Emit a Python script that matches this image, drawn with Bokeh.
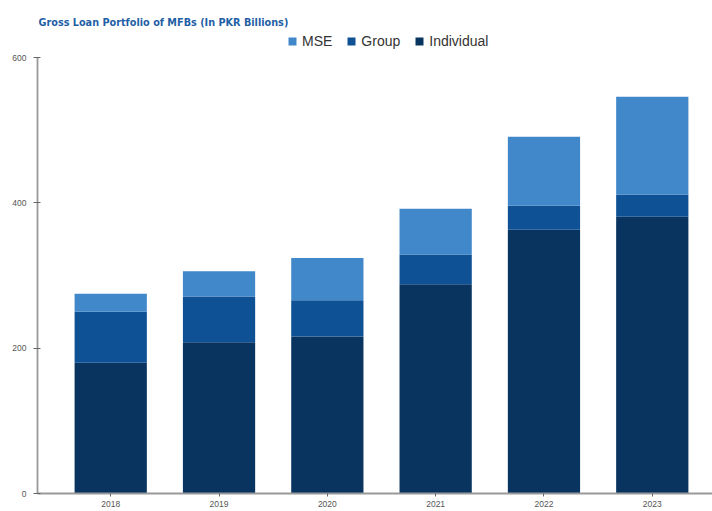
from bokeh.plotting import figure
from bokeh.models import ColumnDataSource, Legend, LegendItem, Label, FixedTicker, Range1d
from bokeh.embed import file_html
from bokeh.resources import INLINE

years = ["2018", "2019", "2020", "2021", "2022", "2023"]
individual = [180, 208, 216, 288, 363, 381]
group = [70, 63, 50, 41, 33, 30]
mse = [25, 35, 58, 63, 95, 135]
series = ["Individual", "Group", "MSE"]
colors = {"Individual": "#08345F", "Group": "#0E5195", "MSE": "#4088CA"}
y_ticks = [0, 200, 400, 600]
y_max = 600

xs = list(range(len(years)))
src = ColumnDataSource(dict(x=xs, Individual=individual, Group=group, MSE=mse))

# frame extends to the top of the canvas so the header texts are not clipped
frame_h = 493
axis_h = 436
p = figure(width=712, height=511, output_backend="svg", toolbar_location=None,
           x_range=Range1d(-0.676, 5.556), y_range=Range1d(0, y_max * frame_h / axis_h),
           min_border_left=37, min_border_right=0, min_border_top=0, min_border_bottom=18)
p.outline_line_color = None
p.xgrid.visible = False
p.ygrid.visible = False
p.background_fill_color = "white"
p.border_fill_color = "white"

rs = p.vbar_stack(series, x="x", width=0.667, source=src,
                  color=[colors[s] for s in series], line_color=None)

p.xaxis.ticker = FixedTicker(ticks=xs)
p.xaxis.major_label_overrides = {i: y for i, y in enumerate(years)}
p.yaxis.ticker = FixedTicker(ticks=y_ticks)
p.yaxis.bounds = (0, y_max)
for ax in (p.xaxis, p.yaxis):
    ax.axis_line_color = "#999999"
    ax.axis_line_width = 1.8
    ax.major_tick_line_color = "#666666"
    ax.minor_tick_line_color = None
    ax.major_label_text_font = "Liberation Sans"
    ax.major_label_text_font_size = "8.5px"
    ax.major_label_text_color = "#555555"
p.yaxis.major_tick_in = 3
p.yaxis.major_tick_out = 4
p.yaxis.major_label_standoff = 7
p.xaxis.major_tick_in = 0
p.xaxis.major_tick_out = 3
p.xaxis.major_label_standoff = 4

items = [LegendItem(label=s, renderers=[r]) for s, r in zip(series, rs)][::-1]
legend = Legend(items=items, orientation="horizontal", location=(250, 444),
                label_text_font="Liberation Sans", label_text_font_size="14px",
                label_text_color="#333333", glyph_width=10, glyph_height=10,
                label_standoff=5, spacing=14, padding=0, margin=0,
                label_height=16,
                border_line_color=None, background_fill_alpha=0)
p.add_layout(legend, "center")

title = Label(x=1, y=471, x_units="screen", y_units="screen",
              text="Gross Loan Portfolio of MFBs (In PKR Billions)",
              text_font="DejaVu Sans", text_font_style="bold",
              text_font_size="9.7px", text_color="#1F5FA6", text_baseline="alphabetic")
p.add_layout(title)

open("out.html", "w").write(file_html(p, INLINE))
